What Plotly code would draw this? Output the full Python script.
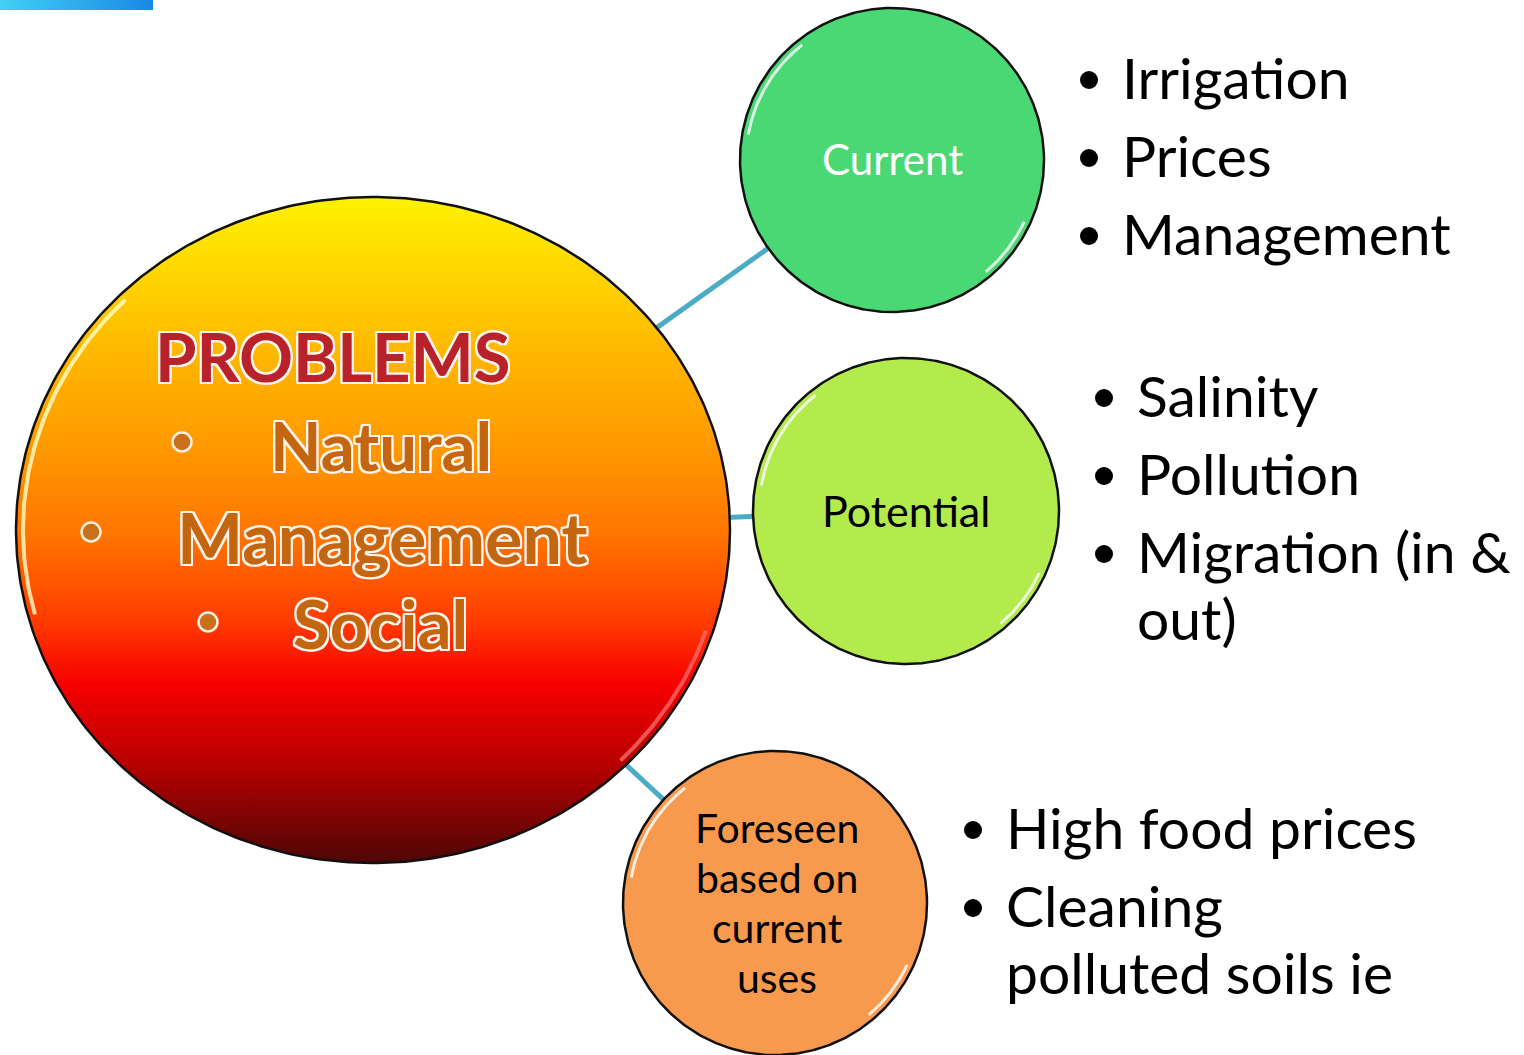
import numpy as np
import plotly.graph_objects as go

W, H = 1524, 1055

# ---------------- data ----------------
hub_title = "PROBLEMS"
hub_items = ["Natural", "Management", "Social"]

node_labels = [["Current"], ["Potential"], ["Foreseen", "based on", "current", "uses"]]
node_fill = ["#4AD874", "#B3EA4C", "#F79A4E"]
node_text_color = ["#FFFFFF", "#000000", "#000000"]

list_items = [
    [["Irrigation"], ["Prices"], ["Management"]],
    [["Salinity"], ["Pollution"], ["Migration (in &", "out)"]],
    [["High food prices"], ["Cleaning", "polluted soils ie"]],
]

# ---------------- layout geometry ----------------
hub_cx, hub_cy, hub_rx, hub_ry = 373, 530, 357, 333
node_cx = [892, 906, 775]
node_cy = [160, 511, 903]
node_r = [152, 153, 152]

hub_title_pos = (333, 356)
hub_item_pos = [(381, 445), (382, 537), (380, 623)]
hub_item_size = [67, 70, 67]
hub_bullet_pos = [(182, 442), (91, 532), (208, 622)]

list_bullet_x = [1089, 1104, 973]
list_text_x = [1120, 1135, 1004]
list_first_y = [80, 398, 830]
item_step = 78
wrap_step = 67

node_line_step = 50
node_font_size = [42, 43, 41]

FONT = "Lato"
CONNECT = "#4BACC6"

fig = go.Figure()
theta = np.linspace(0, 2 * np.pi, 400)

# connectors (computed from centers to edges)
for cx, cy, r in zip(node_cx, node_cy, node_r):
    d = np.array([cx - hub_cx, cy - hub_cy], float)
    u = d / np.linalg.norm(d)
    t = 1.0 / np.sqrt((u[0] / hub_rx) ** 2 + (u[1] / hub_ry) ** 2)
    p0 = (hub_cx + u[0] * (t - 4), hub_cy + u[1] * (t - 4))
    p1 = (cx - u[0] * (r - 4), cy - u[1] * (r - 4))
    fig.add_trace(go.Scatter(x=[p0[0], p1[0]], y=[p0[1], p1[1]], mode="lines",
                             line=dict(color=CONNECT, width=5), hoverinfo="skip"))

# hub ellipse with vertical gradient (scale runs bottom -> top on screen)
hub_scale_top_to_bottom = [
    [0.0, "#FFF200"], [0.12, "#FFD400"], [0.25, "#FFB400"], [0.38, "#FF9800"],
    [0.51, "#FF7400"], [0.64, "#FF3A00"], [0.73, "#F80000"], [0.85, "#B80000"],
    [1.0, "#4E0606"]]
hub_scale = [[round(1 - p, 4), c] for p, c in reversed(hub_scale_top_to_bottom)]
fig.add_trace(go.Scatter(
    x=hub_cx + hub_rx * np.cos(theta), y=hub_cy + hub_ry * np.sin(theta),
    mode="lines", fill="toself", line=dict(color="#111111", width=2.5),
    fillgradient=dict(type="vertical", colorscale=hub_scale),
    hoverinfo="skip"))


def arc(cx, cy, rx, ry, a0, a1, color, width):
    a = np.radians(np.linspace(a0, a1, 60))
    fig.add_trace(go.Scatter(x=cx + rx * np.cos(a), y=cy + ry * np.sin(a), mode="lines",
                             line=dict(color=color, width=width), hoverinfo="skip"))


# glossy highlights on hub
arc(hub_cx, hub_cy, hub_rx - 7, hub_ry - 7, 165, 225, "rgba(255,255,200,0.8)", 4)
arc(hub_cx, hub_cy, hub_rx - 7, hub_ry - 7, 18, 45, "rgba(255,110,110,0.75)", 4)

# nodes
for cx, cy, r, col in zip(node_cx, node_cy, node_r, node_fill):
    fig.add_trace(go.Scatter(
        x=cx + r * np.cos(theta), y=cy + r * np.sin(theta), mode="lines", fill="toself",
        fillcolor=col, line=dict(color="#111111", width=2.5), hoverinfo="skip"))
    arc(cx, cy, r - 6, r - 6, 190, 232, "rgba(255,255,255,0.8)", 3)
    arc(cx, cy, r - 6, r - 6, 25, 50, "rgba(255,255,255,0.8)", 3)

# hub bullets
fig.add_trace(go.Scatter(
    x=[p[0] for p in hub_bullet_pos], y=[p[1] for p in hub_bullet_pos], mode="markers",
    marker=dict(size=19, color="#C8701A", line=dict(color="#FFF0E0", width=2.5)),
    hoverinfo="skip"))

# list bullets
bx, by = [], []
for g, items in enumerate(list_items):
    y = list_first_y[g]
    for lines in items:
        bx.append(list_bullet_x[g])
        by.append(y)
        y += item_step + (len(lines) - 1) * wrap_step
fig.add_trace(go.Scatter(x=bx, y=by, mode="markers",
                         marker=dict(size=18, color="#000000"), hoverinfo="skip"))

# top-left accent bar
fig.add_trace(go.Scatter(
    x=[0, 153, 153, 0, 0], y=[0, 0, 10, 10, 0], mode="lines", fill="toself",
    line=dict(width=0), fillgradient=dict(type="horizontal",
                                         colorscale=[[0, "#42D0F2"], [1, "#1A88E6"]]),
    hoverinfo="skip"))

ann = []
OC = "#FFF4EE"
OUT_W = ", ".join(f"{dx}px {dy}px 0 {OC}" for dx, dy in
                  [(-2, -2), (2, -2), (-2, 2), (2, 2), (0, 2), (0, -2), (2, 0), (-2, 0)])

ann.append(dict(x=hub_title_pos[0], y=hub_title_pos[1], text=hub_title, showarrow=False,
                xanchor="center", yanchor="middle",
                font=dict(family=FONT, size=67, color="#B8222A", weight="bold", shadow=OUT_W)))
for (x, y), t, s in zip(hub_item_pos, hub_items, hub_item_size):
    ann.append(dict(x=x, y=y, text=t, showarrow=False, xanchor="center", yanchor="middle",
                    font=dict(family=FONT, size=s, color="#C46610", weight="bold", shadow=OUT_W)))

# node labels
for cx, cy, lines, tc, fs in zip(node_cx, node_cy, node_labels, node_text_color, node_font_size):
    n = len(lines)
    for i, t in enumerate(lines):
        ann.append(dict(x=cx + (2 if n > 1 else 0), y=cy + (i - (n - 1) / 2) * node_line_step - 1,
                        text=t, showarrow=False, xanchor="center", yanchor="middle",
                        font=dict(family=FONT, size=fs, color=tc)))

# list texts
for g, items in enumerate(list_items):
    y = list_first_y[g]
    for lines in items:
        for j, t in enumerate(lines):
            ann.append(dict(x=list_text_x[g], y=y + j * wrap_step - 3, text=t, showarrow=False,
                            xanchor="left", yanchor="middle",
                            font=dict(family=FONT, size=57, color="#000000")))
        y += item_step + (len(lines) - 1) * wrap_step

fig.update_layout(
    width=W, height=H, margin=dict(l=0, r=0, t=0, b=0),
    paper_bgcolor="white", plot_bgcolor="white", showlegend=False,
    xaxis=dict(range=[0, W], visible=False, fixedrange=True),
    yaxis=dict(range=[H, 0], visible=False, fixedrange=True),
    annotations=ann,
)

fig.write_html("out.html", config={"displayModeBar": False, "staticPlot": True},
               post_script="document.body.style.margin='0';document.body.style.overflow='hidden';")
